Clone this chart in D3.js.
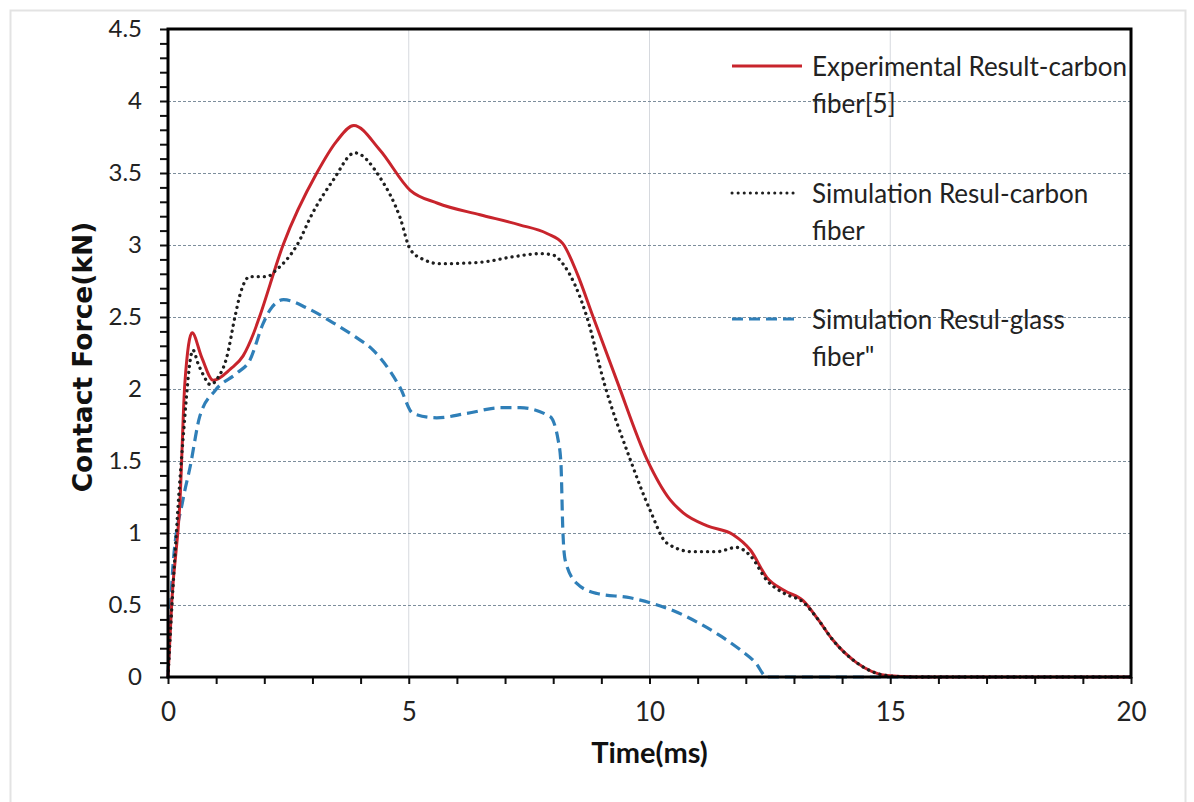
<!DOCTYPE html>
<html>
<head>
<meta charset="utf-8">
<style>
    body { margin: 0; background: #fff; }
    .tick text { fill: #222; }
</style>
</head>
<body>
<div id="vis"></div>

<script src="https://d3js.org/d3.v7.min.js"></script>
<script>
    // ---- data ----
    let expTime  = [0, 0.08, 0.25, 0.35, 0.5, 0.7, 0.94, 1.3, 1.56, 1.77, 1.9, 2.39, 3.09, 3.5, 3.86, 4.4, 5.03, 5.6, 6.48, 7.3, 7.87, 8.2, 8.5, 8.83, 9.32, 9.95, 10.43, 10.7, 11.2, 11.73, 12.1, 12.44, 12.8, 13.19, 13.5, 13.8, 14.3, 14.93, 15.5, 20];
    let expForce = [0, 0.53, 1.23, 2.04, 2.39, 2.22, 2.06, 2.14, 2.23, 2.38, 2.5, 3.0, 3.5, 3.72, 3.83, 3.66, 3.38, 3.29, 3.21, 3.14, 3.08, 3.01, 2.8, 2.5, 2.06, 1.51, 1.23, 1.14, 1.05, 0.99, 0.88, 0.69, 0.6, 0.53, 0.4, 0.26, 0.1, 0.01, 0, 0];

    let simCarbonTime  = [0, 0.1, 0.3, 0.52, 0.62, 0.73, 0.88, 1.04, 1.22, 1.39, 1.5, 1.7, 2.05, 2.26, 2.68, 3.0, 3.43, 3.88, 4.4, 4.82, 5.03, 5.3, 5.65, 6.48, 7.2, 7.73, 8.0, 8.2, 8.7, 9.06, 9.6, 10.01, 10.36, 10.9, 11.4, 11.8, 12.1, 12.44, 12.8, 13.19, 13.5, 13.8, 14.3, 14.93, 15.5, 20];
    let simCarbonForce = [0, 0.6, 1.6, 2.27, 2.18, 2.1, 2.03, 2.08, 2.22, 2.5, 2.66, 2.78, 2.78, 2.83, 3.0, 3.22, 3.45, 3.64, 3.47, 3.19, 2.97, 2.9, 2.87, 2.88, 2.92, 2.94, 2.93, 2.87, 2.5, 2.04, 1.51, 1.16, 0.93, 0.87, 0.87, 0.9, 0.84, 0.67, 0.58, 0.52, 0.4, 0.26, 0.1, 0.01, 0, 0];

    let simGlassTime  = [0, 0.1, 0.31, 0.46, 0.66, 0.98, 1.43, 1.7, 1.97, 2.12, 2.4, 2.9, 3.43, 3.9, 4.26, 4.6, 4.82, 5.09, 5.58, 6.2, 6.9, 7.31, 7.93, 8.1, 8.16, 8.2, 8.25, 8.49, 8.91, 9.6, 10.07, 10.5, 11.05, 11.5, 11.88, 12.2, 12.44, 13, 20];
    let simGlassForce = [0, 0.76, 1.23, 1.46, 1.81, 1.99, 2.11, 2.2, 2.45, 2.55, 2.62, 2.56, 2.46, 2.36, 2.27, 2.13, 2.01, 1.83, 1.8, 1.83, 1.87, 1.87, 1.81, 1.65, 1.49, 1.02, 0.81, 0.65, 0.58, 0.55, 0.51, 0.46, 0.37, 0.28, 0.19, 0.1, 0, 0, 0];

    let seriesNames = ["Experimental Result-carbon|fiber[5]", "Simulation Resul-carbon|fiber", "Simulation Resul-glass|fiber\""];
    let xTickLabels = ["0", "5", "10", "15", "20"];
    let yTickLabels = ["0", "0.5", "1", "1.5", "2", "2.5", "3", "3.5", "4", "4.5"];

    // ---- layout ----
    let W = 1194, H = 802;
    let margin = {top: 29, right: 63, bottom: 125, left: 168},
        width = W - margin.left - margin.right,
        height = H - margin.top - margin.bottom;

    let root = d3.select("#vis")
        .append("svg")
        .attr("width", W)
        .attr("height", H);

    // faint outer frame
    root.append("rect")
        .attr("x", 10.5).attr("y", 10.5)
        .attr("width", 1175).attr("height", 800)
        .attr("fill", "none")
        .attr("stroke", "#e3e3e3")
        .attr("stroke-width", 2);

    let svg = root.append("g")
        .attr("transform", "translate(" + margin.left + "," + margin.top + ")");

    let x = d3.scaleLinear().domain([0, 20]).range([0, width]);
    let y = d3.scaleLinear().domain([0, 4.5]).range([height, 0]);

    // vertical grid (light, solid)
    svg.append("g")
        .selectAll("line")
        .data(xTickLabels.map(Number).filter(d => d > 0 && d < 20))
        .enter().append("line")
        .attr("x1", d => x(d)).attr("x2", d => x(d))
        .attr("y1", 0).attr("y2", height)
        .attr("stroke", "#d6d9de")
        .attr("stroke-width", 1);

    // horizontal grid (dashed)
    svg.append("g")
        .selectAll("line")
        .data(yTickLabels.map(Number).filter(d => d > 0 && d < 4.5))
        .enter().append("line")
        .attr("x1", 0).attr("x2", width)
        .attr("y1", d => Math.round(y(d)) + 0.5).attr("y2", d => Math.round(y(d)) + 0.5)
        .attr("stroke", "#7d8e9c")
        .attr("stroke-width", 1)
        .attr("stroke-dasharray", "3,2");

    // ---- lines ----
    let line = d3.line()
        .x(d => x(d[0]))
        .y(d => y(d[1]))
        .curve(d3.curveMonotoneX);

    let expData = d3.zip(expTime, expForce);
    let carbonData = d3.zip(simCarbonTime, simCarbonForce);
    let glassData = d3.zip(simGlassTime, simGlassForce);

    let styles = [
        {color: "#c8242c", dash: null, cap: "butt", w: 3},
        {color: "#1f1f1f", dash: "0.1,6", cap: "round", w: 3.3},
        {color: "#2f7fb8", dash: "11,6", cap: "butt", w: 3.2}
    ];

    svg.append("path").datum(glassData)
        .attr("d", line).attr("fill", "none")
        .attr("stroke", styles[2].color).attr("stroke-width", styles[2].w)
        .attr("stroke-dasharray", styles[2].dash);

    svg.append("path").datum(expData)
        .attr("d", line).attr("fill", "none")
        .attr("stroke", styles[0].color).attr("stroke-width", styles[0].w);

    svg.append("path").datum(carbonData)
        .attr("d", line).attr("fill", "none")
        .attr("stroke", styles[1].color).attr("stroke-width", styles[1].w)
        .attr("stroke-linecap", "round")
        .attr("stroke-dasharray", styles[1].dash);

    // ---- axes ----
    // minor ticks
    svg.append("g")
        .attr("transform", "translate(0," + height + ")")
        .call(d3.axisBottom(x).tickValues(d3.range(0, 21, 1)).tickSize(7).tickFormat(""))
        .call(g => g.selectAll(".tick line").attr("stroke", "#111").attr("stroke-width", 2))
        .call(g => g.select(".domain").remove());

    svg.append("g")
        .call(d3.axisLeft(y).tickValues(d3.range(0, 46, 1).map(d => d / 10)).tickSize(8).tickFormat(""))
        .call(g => g.selectAll(".tick line").attr("stroke", "#111").attr("stroke-width", 2))
        .call(g => g.select(".domain").remove());

    // labelled x axis
    svg.append("g")
        .attr("transform", "translate(0," + height + ")")
        .call(d3.axisBottom(x).tickValues(xTickLabels.map(Number)).tickSize(0).tickPadding(26)
            .tickFormat((d, i) => xTickLabels[i]))
        .call(g => g.select(".domain").remove())
        .call(g => g.selectAll("text")
            .style("font-family", "Lato, 'Open Sans', sans-serif")
            .style("font-size", "26px"));

    // labelled y axis
    svg.append("g")
        .call(d3.axisLeft(y).tickValues(yTickLabels.map(Number)).tickSize(0).tickPadding(26)
            .tickFormat((d, i) => yTickLabels[i]))
        .call(g => g.select(".domain").remove())
        .call(g => g.selectAll("text")
            .style("font-family", "Lato, 'Open Sans', sans-serif")
            .style("font-size", "24px"));

    // black frame around the plot
    svg.append("rect")
        .attr("x", 0).attr("y", 0)
        .attr("width", width).attr("height", height)
        .attr("fill", "none")
        .attr("stroke", "#000")
        .attr("stroke-width", 3);

    // axis titles
    svg.append("text")
        .attr("x", width / 2)
        .attr("y", height + 86)
        .style("text-anchor", "middle")
        .style("font-family", "Lato, sans-serif")
        .style("font-weight", "bold")
        .style("font-size", "29px")
        .attr("fill", "#111")
        .text("Time(ms)");

    svg.append("text")
        .attr("transform", "rotate(-90)")
        .attr("x", -(height / 2) - 4)
        .attr("y", -76)
        .style("text-anchor", "middle")
        .style("font-family", "'DejaVu Sans', Verdana, sans-serif")
        .style("font-weight", "bold")
        .style("font-size", "26.5px")
        .attr("fill", "#111")
        .text("Contact Force(kN)");

    // ---- legend ----
    let legendY = [66, 193, 319];
    let legend = root.append("g");
    seriesNames.forEach(function(name, i) {
        let s = styles[i];
        legend.append("line")
            .attr("x1", 732).attr("x2", i === 0 ? 802 : 797)
            .attr("y1", legendY[i]).attr("y2", legendY[i])
            .attr("stroke", s.color)
            .attr("stroke-width", 3)
            .attr("stroke-linecap", s.cap)
            .attr("stroke-dasharray", s.dash);
        name.split("|").forEach(function(part, j) {
            legend.append("text")
                .attr("x", 812)
                .attr("y", legendY[i] + 10 + j * 37)
                .style("font-family", "Lato, sans-serif")
                .style("font-size", "26px")
                .attr("fill", "#222")
                .text(part);
        });
    });
</script>
</body>
</html>
